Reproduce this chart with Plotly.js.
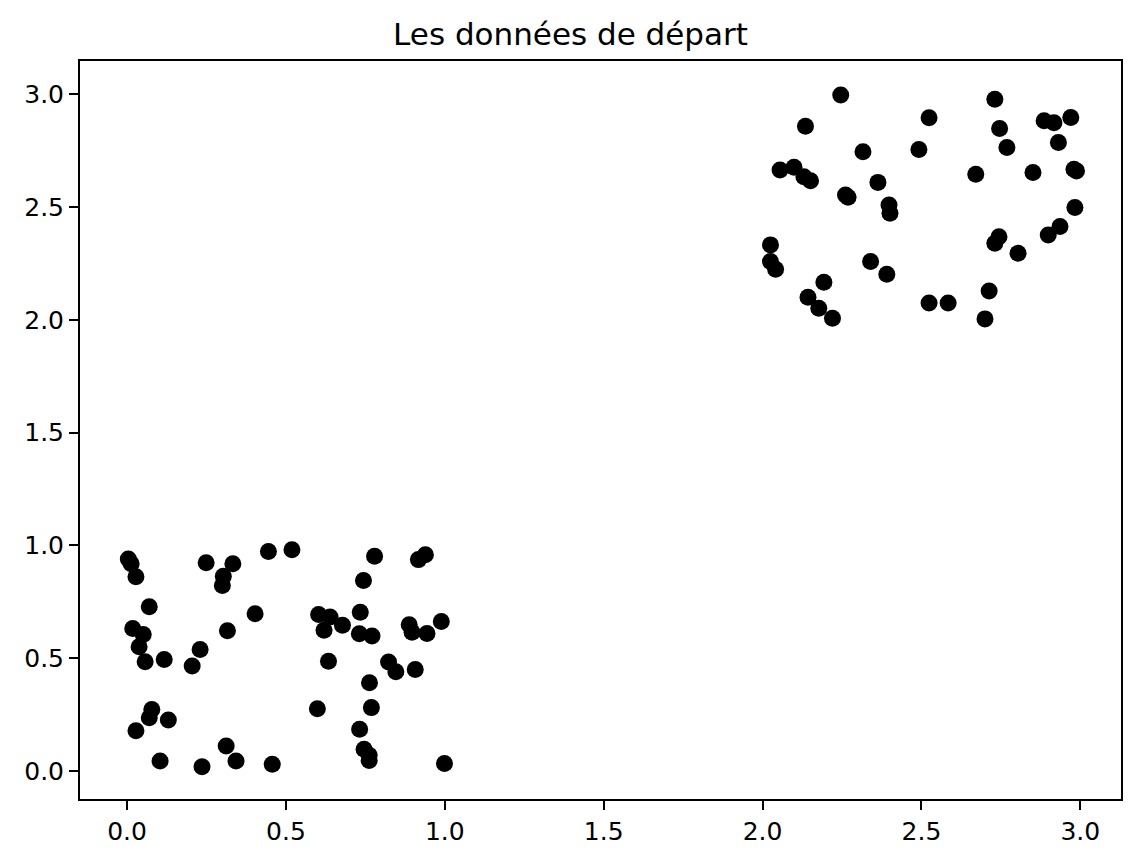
<!DOCTYPE html>
<html>
<head>
<meta charset="utf-8">
<script src="https://cdn.plot.ly/plotly-3.0.1.min.js"></script>
<style>html,body{margin:0;padding:0;background:#fff;}#chart{width:1141px;height:864px;}</style>
</head>
<body>
<div id="chart"></div>
<script>
// Cluster near (0..1, 0..1)
const xLow = [0.004,0.013,0.028,0.249,0.333,0.303,0.300,0.445,0.519,0.070,0.018,0.051,0.038,0.057,0.117,0.230,0.205,0.316,0.403,0.078,0.070,0.130,0.028,0.312,0.343,0.104,0.236,0.457,0.779,0.939,0.917,0.744,0.603,0.639,0.620,0.678,0.734,0.731,0.771,0.888,0.897,0.944,0.989,0.634,0.823,0.846,0.907,0.763,0.599,0.769,0.732,0.746,0.762,0.762,0.999];
const yLow = [0.940,0.919,0.861,0.923,0.919,0.863,0.822,0.973,0.981,0.728,0.632,0.605,0.551,0.484,0.494,0.539,0.465,0.622,0.697,0.273,0.236,0.226,0.179,0.111,0.044,0.044,0.019,0.030,0.952,0.959,0.937,0.844,0.694,0.683,0.624,0.646,0.704,0.608,0.598,0.648,0.615,0.610,0.663,0.487,0.483,0.440,0.450,0.391,0.276,0.281,0.185,0.096,0.070,0.047,0.033];
// Cluster near (2..3, 2..3)
const xHigh = [2.246,2.524,2.135,2.316,2.492,2.055,2.099,2.130,2.151,2.261,2.269,2.363,2.398,2.401,2.025,2.025,2.041,2.340,2.391,2.193,2.143,2.177,2.220,2.524,2.731,2.746,2.769,2.886,2.917,2.970,2.931,2.671,2.851,2.980,2.988,2.983,2.936,2.899,2.744,2.731,2.804,2.713,2.700,2.584];
const yHigh = [2.996,2.895,2.858,2.745,2.755,2.664,2.676,2.634,2.616,2.553,2.543,2.609,2.509,2.472,2.332,2.258,2.224,2.258,2.202,2.166,2.100,2.051,2.007,2.074,2.977,2.848,2.764,2.882,2.873,2.897,2.786,2.645,2.653,2.667,2.660,2.498,2.413,2.376,2.368,2.339,2.295,2.128,2.004,2.074];
const tickVals = [0,0.5,1,1.5,2,2.5,3];
const tickText = ['0.0','0.5','1.0','1.5','2.0','2.5','3.0'];
const titleText = 'Les données de départ';

const xs = xLow.concat(xHigh);
const ys = yLow.concat(yHigh);

const font = {family: 'DejaVu Sans, sans-serif', size: 25, color: '#000'};
const axisCommon = {
  showgrid: false, zeroline: false, showline: true, mirror: true,
  linecolor: '#000', linewidth: 2,
  ticks: 'outside', ticklen: 9, tickwidth: 2, tickcolor: '#000',
  tickmode: 'array', tickvals: tickVals, ticktext: tickText,
  tickfont: font
};
Plotly.newPlot('chart', [{
  x: xs, y: ys, type: 'scatter', mode: 'markers',
  marker: {color: '#000', size: 17, line: {width: 0}},
  hoverinfo: 'skip'
}], {
  width: 1141, height: 864,
  margin: {l: 80, r: 20, t: 61, b: 65},
  paper_bgcolor: '#fff', plot_bgcolor: '#fff',
  font: font,
  title: {text: titleText, font: {family: 'DejaVu Sans, sans-serif', size: 31, color: '#000'}, x: 0.5, xanchor: 'center', y: 1 - 34/864, yanchor: 'middle'},
  xaxis: Object.assign({range: [-0.148, 3.128]}, axisCommon),
  yaxis: Object.assign({range: [-0.124, 3.147]}, axisCommon),
  showlegend: false
}, {displayModeBar: false, staticPlot: true});
</script>
</body>
</html>
